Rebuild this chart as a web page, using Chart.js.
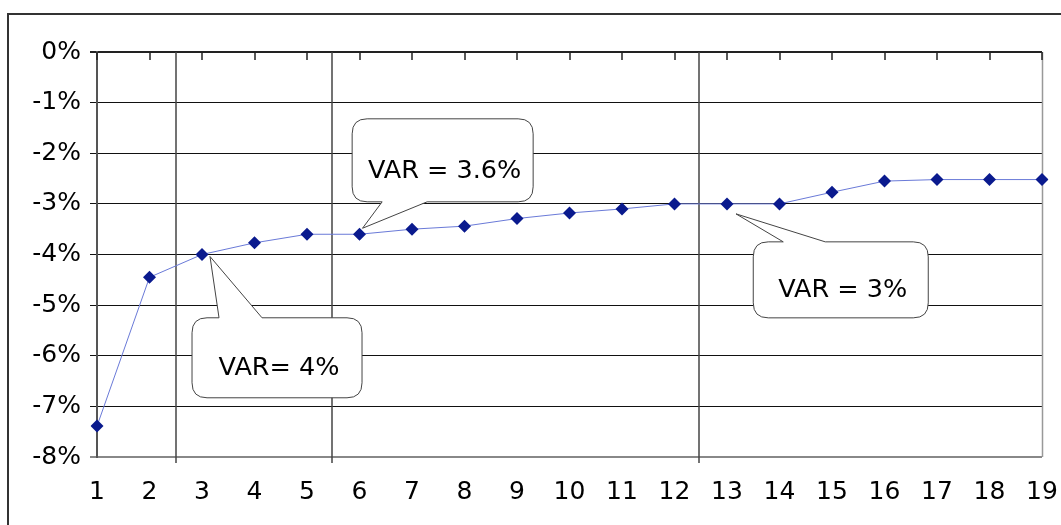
<!DOCTYPE html>
<html>
<head>
<meta charset="utf-8">
<script src="https://cdn.jsdelivr.net/npm/chart.js@4.4.0/dist/chart.umd.min.js"></script>
<style>
  html, body { margin: 0; padding: 0; background: #fff; }
  #wrap { position: relative; width: 1061px; height: 525px; }
</style>
</head>
<body>
<div id="wrap"><canvas id="c"></canvas></div>
<script>
// Category labels along the bottom axis
const periods = ['1','2','3','4','5','6','7','8','9','10','11','12','13','14','15','16','17','18','19'];
// Value-at-risk series, in percent
const varValues = [-7.39, -4.45, -4.0, -3.77, -3.6, -3.6, -3.50, -3.44, -3.29, -3.18, -3.10, -3.0, -3.0, -3.0, -2.77, -2.55, -2.52, -2.52, -2.52];
// Y axis range and step, in percent
const yMin = -8, yMax = 0, yStep = 1;
// Vertical divider positions, in category index units
const dividers = [1.5, 4.47, 11.47];
// Callout texts and the category index each one points at
const calloutTexts = ['VAR= 4%', 'VAR = 3.6%', 'VAR = 3%'];
const calloutTargets = [2, 5, 12];
// Callout box top-left corner in data units (index, value)
const calloutBoxX = [1.81, 4.86, 12.5];
const calloutBoxY = [-5.25, -1.32, -3.75];

const FONT = "'DejaVu Sans', Verdana, sans-serif";

// Box sizes and wedge geometry, in pixels
const calloutStyle = [
  { w: 170, h: 80, side: 'top', base: [27, 70], tip: [8, 2] },
  { w: 181, h: 83, side: 'bottom', base: [30, 75], tip: [3, -6] },
  { w: 175, h: 76, side: 'top', base: [30, 72], tip: [9, 10] }
];

function calloutPath(ctx, l, t, w, h, r, side, b0, b1, tx, ty) {
  const R = l + w, B = t + h;
  ctx.beginPath();
  ctx.moveTo(l + r, t);
  if (side === 'top') {
    ctx.lineTo(b0, t);
    ctx.lineTo(tx, ty);
    ctx.lineTo(b1, t);
  }
  ctx.lineTo(R - r, t);
  ctx.quadraticCurveTo(R, t, R, t + r);
  ctx.lineTo(R, B - r);
  ctx.quadraticCurveTo(R, B, R - r, B);
  if (side === 'bottom') {
    ctx.lineTo(b1, B);
    ctx.lineTo(tx, ty);
    ctx.lineTo(b0, B);
  }
  ctx.lineTo(l + r, B);
  ctx.quadraticCurveTo(l, B, l, B - r);
  ctx.lineTo(l, t + r);
  ctx.quadraticCurveTo(l, t, l + r, t);
  ctx.closePath();
}

const decorPlugin = {
  id: 'decor',
  beforeDraw(chart) {
    const ctx = chart.ctx;
    ctx.save();
    ctx.fillStyle = '#fff';
    ctx.fillRect(0, 0, chart.width, chart.height);
    // outer frame (top and left edges visible)
    ctx.strokeStyle = '#333';
    ctx.lineWidth = 2;
    ctx.beginPath();
    ctx.moveTo(8, chart.height + 5);
    ctx.lineTo(8, 14);
    ctx.lineTo(chart.width + 5, 14);
    ctx.stroke();
    ctx.restore();
  },
  beforeDatasetsDraw(chart) {
    const ctx = chart.ctx;
    const a = chart.chartArea;
    const xs = chart.scales.x;
    ctx.save();
    // right edge of the plot area
    ctx.strokeStyle = '#999';
    ctx.lineWidth = 1.5;
    ctx.beginPath();
    ctx.moveTo(Math.round(a.right) + 0.5, a.top);
    ctx.lineTo(Math.round(a.right) + 0.5, a.bottom);
    ctx.stroke();
    // category tick marks hanging from the 0% line
    ctx.strokeStyle = '#222';
    ctx.lineWidth = 1.5;
    for (let i = 0; i < periods.length; i++) {
      const px = Math.round(xs.getPixelForValue(i));
      ctx.beginPath();
      ctx.moveTo(px, a.top);
      ctx.lineTo(px, a.top + 8);
      ctx.stroke();
    }
    // vertical dividers
    ctx.strokeStyle = '#444';
    ctx.lineWidth = 1.5;
    dividers.forEach(d => {
      const px = Math.round(xs.getPixelForValue(d));
      ctx.beginPath();
      ctx.moveTo(px, a.top);
      ctx.lineTo(px, a.bottom + 6);
      ctx.stroke();
    });
    ctx.restore();
  },
  afterDatasetsDraw(chart) {
    const ctx = chart.ctx;
    const xs = chart.scales.x, ys = chart.scales.y;
    ctx.save();
    calloutTexts.forEach((txt, k) => {
      const st = calloutStyle[k];
      const l = xs.getPixelForValue(calloutBoxX[k]);
      const t = ys.getPixelForValue(calloutBoxY[k]);
      const i = calloutTargets[k];
      const tx = xs.getPixelForValue(i) + st.tip[0];
      const ty = ys.getPixelForValue(varValues[i]) + st.tip[1];
      calloutPath(ctx, l, t, st.w, st.h, 15, st.side, l + st.base[0], l + st.base[1], tx, ty);
      ctx.fillStyle = '#fff';
      ctx.fill();
      ctx.strokeStyle = '#444';
      ctx.lineWidth = 1;
      ctx.stroke();
      ctx.fillStyle = '#000';
      ctx.font = '25.5px ' + FONT;
      ctx.textAlign = 'center';
      ctx.textBaseline = 'middle';
      ctx.fillText(txt, l + st.w / 2 + 2, t + st.h / 2 + 11);
    });
    ctx.restore();
  }
};

new Chart(document.getElementById('c'), {
  type: 'line',
  data: {
    labels: periods,
    datasets: [{
      data: varValues,
      borderColor: '#6a7ad8',
      borderWidth: 1,
      tension: 0,
      pointStyle: 'rectRot',
      pointRadius: 6.5,
      pointBackgroundColor: '#0a1a8e',
      pointBorderColor: '#0a1a8e',
      pointBorderWidth: 0,
      fill: false
    }]
  },
  options: {
    responsive: true,
    maintainAspectRatio: false,
    animation: false,
    events: [],
    layout: { padding: { top: 52, right: 19, left: 0, bottom: 0 } },
    plugins: { legend: { display: false }, tooltip: { enabled: false } },
    scales: {
      x: {
        type: 'category',
        offset: false,
        grid: { display: false, drawTicks: false },
        border: { display: false },
        ticks: {
          autoSkip: false, maxRotation: 0, padding: 20,
          color: '#000', font: { family: FONT, size: 25 }
        },
        afterFit(s) { s.height = 68; s.paddingLeft = 0; s.paddingRight = 0; }
      },
      y: {
        min: yMin, max: yMax,
        grid: {
          color: c => c.tick && c.tick.value === yMin ? '#888' : (c.tick && c.tick.value === 0 ? '#222' : '#111'),
          lineWidth: c => c.tick && (c.tick.value === 0 || c.tick.value === yMin) ? 2 : 1,
          drawTicks: true, tickLength: 7
        },
        border: { display: true, color: '#555', width: 2 },
        ticks: {
          stepSize: yStep, padding: 9, color: '#000',
          font: { family: FONT, size: 25 },
          callback: v => v + '%'
        },
        afterFit(s) { s.width = 97; s.paddingTop = 0; s.paddingBottom = 0; }
      }
    }
  },
  plugins: [decorPlugin]
});
</script>
</body>
</html>
